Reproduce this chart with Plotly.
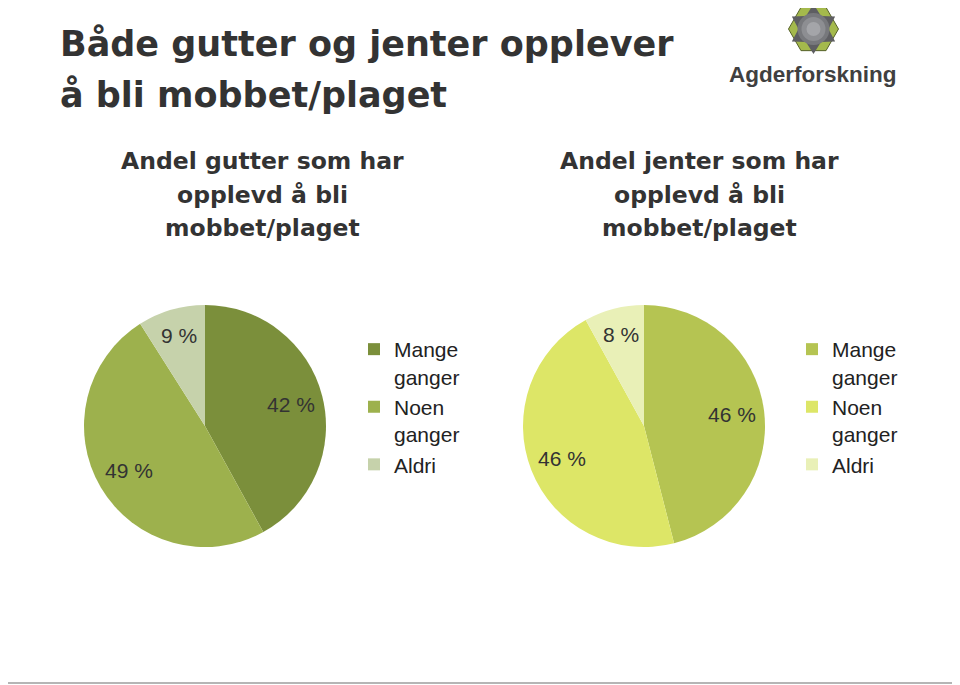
import plotly.graph_objects as go
import math

W, H = 960, 685
OFF = 8  # page body margin of the written html

categories = ["Mange ganger", "Noen ganger", "Aldri"]
legend_labels = ["Mange<br>ganger", "Noen<br>ganger", "Aldri"]
gutter_values = [42, 49, 9]
jenter_values = [46, 46, 8]
gutter_colors = ["#7b8f3b", "#9db14d", "#c6d2ab"]
jenter_colors = ["#b5c452", "#dde667", "#e9f0b7"]

title_lines = ["Både gutter og jenter opplever", "å bli mobbet/plaget"]
gutter_title = ["Andel gutter som har", "opplevd å bli", "mobbet/plaget"]
jenter_title = ["Andel jenter som har", "opplevd å bli", "mobbet/plaget"]

FONT = "Liberation Sans, Arial, sans-serif"
WIDE = "DejaVu Sans, Verdana, sans-serif"
TXT = "#333333"


def px_x(x):
    return (x - OFF) / W


def px_y(y):
    return 1 - (y - OFF) / H


fig = go.Figure()
annotations = []

pies = [
    (gutter_values, gutter_colors, 205, 426, "legend", ""),
    (jenter_values, jenter_colors, 644, 426, "legend2", "\u200b"),
]
R = 121
for vals, cols, cx, cy, leg, suffix in pies:
    fig.add_trace(go.Pie(
        labels=[l + suffix for l in legend_labels],
        values=vals,
        marker=dict(colors=cols, line=dict(width=0)),
        sort=False,
        direction="clockwise",
        rotation=0,
        textinfo="none",
        domain=dict(x=[px_x(cx - R), px_x(cx + R)], y=[px_y(cy + R), px_y(cy - R)]),
        hoverinfo="label+value",
        legend=leg,
        showlegend=True,
    ))
    # data labels placed at the slice mid-angle
    total = sum(vals)
    cum = 0
    for v in vals:
        mid = (cum + v / 2) / total * 2 * math.pi
        cum += v
        r = (0.73 if v / total > 0.2 else 0.78) * R
        annotations.append(dict(
            x=px_x(cx + r * math.sin(mid)), y=px_y(cy - r * math.cos(mid)),
            xref="paper", yref="paper", text=f"{v} %", showarrow=False,
            xanchor="center", yanchor="middle",
            font=dict(family=FONT, size=21, color=TXT),
        ))

legend_common = dict(
    font=dict(family=FONT, size=21, color="#222222"),
    bgcolor="rgba(0,0,0,0)",
    traceorder="normal",
    itemsizing="constant",
    valign="top",
    xanchor="left",
    yanchor="top",
    itemwidth=30,
)
fig.update_layout(
    legend=dict(x=px_x(354), y=px_y(329), **legend_common),
    legend2=dict(x=px_x(792), y=px_y(329), **legend_common),
)

# main title
for i, line in enumerate(title_lines):
    annotations.append(dict(
        x=px_x(58), y=px_y(44 + i * 51), xref="paper", yref="paper",
        text=f"<b>{line}</b>", showarrow=False, xanchor="left", yanchor="middle",
        font=dict(family=WIDE, size=35, color=TXT),
    ))
# subtitles
for cxs, lines in [(262, gutter_title), (699, jenter_title)]:
    for i, line in enumerate(lines):
        annotations.append(dict(
            x=px_x(cxs), y=px_y(161 + i * 33.5), xref="paper", yref="paper",
            text=f"<b>{line}</b>", showarrow=False, xanchor="center", yanchor="middle",
            font=dict(family=WIDE, size=23.5, color=TXT),
        ))
# logo text
annotations.append(dict(
    x=px_x(813), y=px_y(75), xref="paper", yref="paper",
    text="<b>Agderforskning</b>", showarrow=False, xanchor="center", yanchor="middle",
    font=dict(family=FONT, size=22.5, color="#404040"),
))

# logo icon
shapes = []
lx, ly = 813.5, 29


def poly(points):
    return "M " + " L ".join(f"{px_x(x):.5f},{px_y(y):.5f}" for x, y in points) + " Z"


hexagon = [(lx + 25 * math.cos(math.radians(a)), ly + 25 * math.sin(math.radians(a))) for a in range(0, 360, 60)]
shapes.append(dict(type="path", xref="paper", yref="paper", path=poly(hexagon),
                   fillcolor="#a4b94c", line=dict(color="#56612a", width=1)))
star = []
for k in range(12):
    a = math.radians(-90 + k * 30)
    r = 25 if k % 2 == 0 else 15
    star.append((lx + r * math.cos(a), ly + r * math.sin(a)))
shapes.append(dict(type="path", xref="paper", yref="paper", path=poly(star),
                   fillcolor="#5e5e62", line=dict(width=0)))
for rad, col in [(16, "#77787c"), (12, "#8d8e92"), (7, "#a4a5a9")]:
    shapes.append(dict(type="circle", xref="paper", yref="paper",
                       x0=px_x(lx - rad), x1=px_x(lx + rad), y0=px_y(ly + rad), y1=px_y(ly - rad),
                       fillcolor=col, line=dict(width=0)))
# bottom rule
shapes.append(dict(type="line", xref="paper", yref="paper",
                   x0=0, x1=1, y0=px_y(683), y1=px_y(683),
                   line=dict(color="#b5b5b5", width=2)))

fig.update_layout(
    width=W, height=H,
    margin=dict(l=0, r=0, t=0, b=0),
    paper_bgcolor="white",
    plot_bgcolor="white",
    annotations=annotations,
    shapes=shapes,
)

fig.write_html("out.html")
